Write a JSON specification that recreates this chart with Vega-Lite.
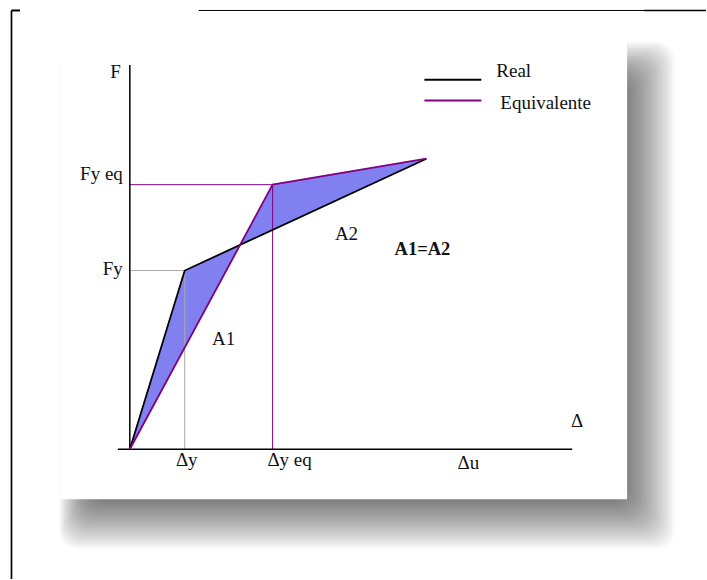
{
  "$schema": "https://vega.github.io/schema/vega-lite/v6.json",
  "width": 707,
  "height": 580,
  "padding": 0,
  "autosize": {"type": "fit", "contains": "padding"},
  "background": "white",
  "config": {"view": {"stroke": null}},
  "datasets": {
    "shadow": [
      {"x": -4.2, "x2": 49.8, "y": 37.0, "y2": -5.2},
      {"x": -4.35, "x2": 50.05, "y": 37.2, "y2": -5.45},
      {"x": -4.5, "x2": 50.3, "y": 37.4, "y2": -5.7},
      {"x": -4.65, "x2": 50.55, "y": 37.6, "y2": -5.95},
      {"x": -4.8, "x2": 50.8, "y": 37.8, "y2": -6.2},
      {"x": -4.95, "x2": 51.05, "y": 38.0, "y2": -6.45},
      {"x": -5.1, "x2": 51.3, "y": 38.2, "y2": -6.7},
      {"x": -5.25, "x2": 51.55, "y": 38.4, "y2": -6.95},
      {"x": -5.4, "x2": 51.8, "y": 38.6, "y2": -7.2},
      {"x": -5.55, "x2": 52.05, "y": 38.8, "y2": -7.45},
      {"x": -5.7, "x2": 52.3, "y": 39.0, "y2": -7.7},
      {"x": -5.85, "x2": 52.55, "y": 39.2, "y2": -7.95},
      {"x": -6.0, "x2": 52.8, "y": 39.4, "y2": -8.2},
      {"x": -6.15, "x2": 53.05, "y": 39.6, "y2": -8.45},
      {"x": -6.3, "x2": 53.3, "y": 39.8, "y2": -8.7},
      {"x": -6.45, "x2": 53.55, "y": 40.0, "y2": -8.95},
      {"x": -6.6, "x2": 53.8, "y": 40.2, "y2": -9.2},
      {"x": -6.75, "x2": 54.05, "y": 40.4, "y2": -9.45},
      {"x": -6.9, "x2": 54.3, "y": 40.6, "y2": -9.7},
      {"x": -7.05, "x2": 54.55, "y": 40.8, "y2": -9.95}
    ],
    "panel": [{"x": -7.0, "x2": 49.8, "y": 41.2, "y2": -5.0}],
    "frame": [
      {"segment": "top", "x": 6.9, "x2": 51.5, "y": 43.95, "y2": 43.95},
      {"segment": "topRight", "x": 51.5, "x2": 57.7, "y": 43.95, "y2": 43.95},
      {"segment": "left", "x": -11.85, "x2": -11.85, "y": 43.95, "y2": -13},
      {"segment": "hook", "x": -11.85, "x2": -11.0, "y": 43.95, "y2": 43.95}
    ],
    "difference": [
      {"order": 1, "x": 0, "y": 0},
      {"order": 2, "x": 5.5, "y": 17.9},
      {"order": 3, "x": 29.7, "y": 29.1},
      {"order": 4, "x": 14.3, "y": 26.5},
      {"order": 5, "x": 0, "y": 0}
    ],
    "guides": [
      {"kind": "yield", "x": 0, "x2": 5.5, "y": 17.9, "y2": 17.9},
      {"kind": "yield", "x": 5.5, "x2": 5.5, "y": 0, "y2": 17.9},
      {"kind": "equivalent", "x": 0, "x2": 14.3, "y": 26.5, "y2": 26.5},
      {"kind": "equivalent", "x": 14.3, "x2": 14.3, "y": 0, "y2": 26.5}
    ],
    "axes": [
      {"x": 0, "x2": 0, "y": 0, "y2": 38.5},
      {"x": -1.2, "x2": 44.3, "y": 0, "y2": 0}
    ],
    "curves": [
      {"series": "Real", "order": 1, "x": 0, "y": 0},
      {"series": "Real", "order": 2, "x": 5.5, "y": 17.9},
      {"series": "Real", "order": 3, "x": 29.7, "y": 29.1},
      {"series": "Equivalente", "order": 1, "x": 0, "y": 0},
      {"series": "Equivalente", "order": 2, "x": 14.3, "y": 26.5},
      {"series": "Equivalente", "order": 3, "x": 29.7, "y": 29.1}
    ],
    "key": [
      {"series": "Real", "x": 29.5, "x2": 35.2, "y": 37.0, "y2": 37.0},
      {"series": "Equivalente", "x": 29.5, "x2": 35.2, "y": 34.93, "y2": 34.93}
    ],
    "centerLabels": [
      {"label": "F", "x": -1.43, "y": 37.2},
      {"label": "Δy", "x": 5.7, "y": -1.7},
      {"label": "Δy eq", "x": 16.0, "y": -1.7},
      {"label": "Δu", "x": 33.9, "y": -2.0},
      {"label": "Δ", "x": 44.8, "y": 2.2},
      {"label": "A1", "x": 9.4, "y": 10.4},
      {"label": "A2", "x": 21.7, "y": 21.0}
    ],
    "rightLabels": [
      {"label": "Fy eq", "x": -0.7, "y": 27.0},
      {"label": "Fy", "x": -0.7, "y": 17.5}
    ],
    "keyLabels": [
      {"label": "Real", "x": 36.7, "y": 37.3},
      {"label": "Equivalente", "x": 37.1, "y": 34.1}
    ],
    "boldLabels": [
      {"label": "A1=A2", "x": 29.3, "y": 19.5}
    ]
  },
  "encoding": {
    "x": {"field": "x", "type": "quantitative", "scale": {"domain": [-13, 57.7], "nice": false, "zero": false}, "axis": null},
    "y": {"field": "y", "type": "quantitative", "scale": {"domain": [-13, 45], "nice": false, "zero": false}, "axis": null}
  },
  "layer": [
    {
      "data": {"name": "shadow"},
      "mark": {"type": "rect", "color": "black", "opacity": 0.03, "cornerRadius": 18},
      "encoding": {"x2": {"field": "x2"}, "y2": {"field": "y2"}}
    },
    {
      "data": {"name": "panel"},
      "mark": {"type": "rect", "color": "white", "opacity": 1},
      "encoding": {"x2": {"field": "x2"}, "y2": {"field": "y2"}}
    },
    {
      "data": {"name": "frame"},
      "mark": {"type": "rule", "color": "black"},
      "encoding": {
        "x2": {"field": "x2"},
        "y2": {"field": "y2"},
        "strokeWidth": {"field": "segment", "type": "nominal", "scale": {"domain": ["top", "topRight", "left", "hook"], "range": [1, 2, 2, 2]}, "legend": null}
      }
    },
    {
      "data": {"name": "difference"},
      "mark": {"type": "line", "fill": "#8080f0", "fillOpacity": 1, "stroke": "#8080f0", "strokeWidth": 0.5, "interpolate": "linear"},
      "encoding": {"order": {"field": "order", "type": "quantitative"}}
    },
    {
      "data": {"name": "guides"},
      "mark": {"type": "rule", "strokeWidth": 1},
      "encoding": {
        "x2": {"field": "x2"},
        "y2": {"field": "y2"},
        "color": {"field": "kind", "type": "nominal", "scale": {"domain": ["yield", "equivalent"], "range": ["#a8a8a8", "#800080"]}, "legend": null}
      }
    },
    {
      "data": {"name": "axes"},
      "mark": {"type": "rule", "color": "black", "strokeWidth": 1.5},
      "encoding": {"x2": {"field": "x2"}, "y2": {"field": "y2"}}
    },
    {
      "data": {"name": "curves"},
      "mark": {"type": "line", "strokeWidth": 1.8, "strokeJoin": "miter"},
      "encoding": {
        "order": {"field": "order", "type": "quantitative"},
        "stroke": {"field": "series", "type": "nominal", "scale": {"domain": ["Real", "Equivalente"], "range": ["#000000", "#800080"]}, "legend": null}
      }
    },
    {
      "data": {"name": "key"},
      "mark": {"type": "rule", "strokeWidth": 2},
      "encoding": {
        "x2": {"field": "x2"},
        "y2": {"field": "y2"},
        "stroke": {"field": "series", "type": "nominal", "scale": {"domain": ["Real", "Equivalente"], "range": ["#000000", "#800080"]}, "legend": null}
      }
    },
    {
      "data": {"name": "centerLabels"},
      "mark": {"type": "text", "font": "Liberation Serif", "fontSize": 19, "align": "center", "baseline": "alphabetic", "color": "#111111"},
      "encoding": {"text": {"field": "label"}}
    },
    {
      "data": {"name": "rightLabels"},
      "mark": {"type": "text", "font": "Liberation Serif", "fontSize": 19, "align": "right", "baseline": "alphabetic", "color": "#111111"},
      "encoding": {"text": {"field": "label"}}
    },
    {
      "data": {"name": "keyLabels"},
      "mark": {"type": "text", "font": "Liberation Serif", "fontSize": 19, "align": "left", "baseline": "alphabetic", "color": "#111111"},
      "encoding": {"text": {"field": "label"}}
    },
    {
      "data": {"name": "boldLabels"},
      "mark": {"type": "text", "font": "Liberation Serif", "fontSize": 18.5, "fontWeight": "bold", "align": "center", "baseline": "alphabetic", "color": "#111111"},
      "encoding": {"text": {"field": "label"}}
    }
  ]
}
